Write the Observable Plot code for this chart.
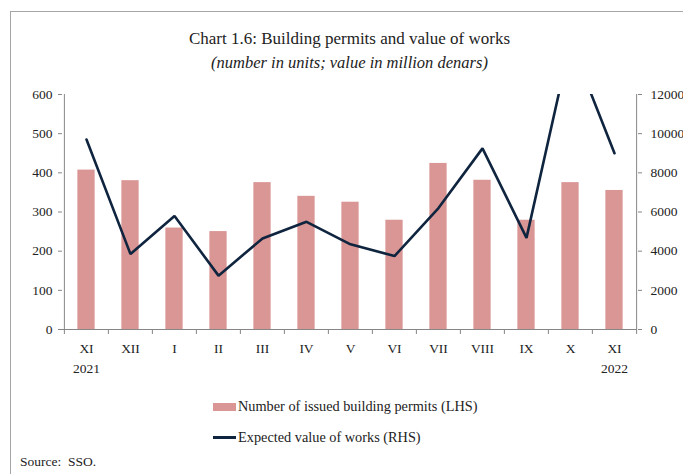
<!DOCTYPE html>
<html>
<head>
<meta charset="utf-8">
<script src="https://cdn.jsdelivr.net/npm/d3@7"></script>
<script src="https://cdn.jsdelivr.net/npm/@observablehq/plot@0.6"></script>
<style>
  body { margin: 0; background: #fff; font-family: "Liberation Serif", serif; color: #222; }
  #wrap { position: relative; width: 683px; height: 474px; overflow: hidden; }
  .abs { position: absolute; }
  #frame { left: 10px; top: 11px; width: 720px; height: 520px; border-left: 1px solid #a6a6a6; border-top: 1px solid #a6a6a6; }
  #title { left: 62px; width: 575px; top: 29px; text-align: center; font-size: 17px; line-height: 20px; }
  #subtitle { left: 62px; width: 575px; top: 53px; text-align: center; font-size: 16.5px; font-style: italic; line-height: 20px; }
  #chart { left: 0; top: 80px; }
  .leg { font-size: 14.3px; line-height: 16px; white-space: nowrap; }
</style>
</head>
<body>
<div id="wrap">
  <div id="frame" class="abs"></div>
  <div id="title" class="abs">Chart 1.6: Building permits and value of works</div>
  <div id="subtitle" class="abs">(number in units; value in million denars)</div>
  <div id="chart" class="abs"></div>
  <div class="abs" style="left:213px;top:403px;width:23px;height:8px;background:#d99694"></div>
  <div class="abs leg" style="left:238px;top:398px">Number of issued building permits (LHS)</div>
  <div class="abs" style="left:213px;top:436px;width:23px;height:2.5px;background:#0f243e"></div>
  <div class="abs leg" style="left:238px;top:429px">Expected value of works (RHS)</div>
  <div class="abs leg" style="left:20px;top:454px;font-size:13.5px">Source:&nbsp; SSO.</div>
</div>
<script>
const categories = ["XI 2021","XII","I","II","III","IV","V","VI","VII","VIII","IX","X","XI 2022"];
const monthLabels = ["XI\n2021","XII","I","II","III","IV","V","VI","VII","VIII","IX","X","XI\n2022"];
const permits = [407,380,259,250,375,340,325,279,424,381,279,375,355];
const works = [9700,3850,5800,2750,4650,5500,4350,3750,6200,9250,4680,14700,9000];
const lhsTicks = [0,100,200,300,400,500,600];
const rhsTicks = [0,2000,4000,6000,8000,10000,12000];

const ratio = rhsTicks[rhsTicks.length-1] / lhsTicks[lhsTicks.length-1];
const data = categories.map((c, i) => ({cat: c, permits: permits[i], works: works[i]}));

const W = 683, ML = 62, MR = 46;
const bw = (W - ML - MR) / categories.length;
const barW = 17.5;
const inset = (bw - barW) / 2;
const grey = "#868686";

const chart = Plot.plot({
  width: W,
  height: 300,
  marginTop: 14,
  marginBottom: 51,
  marginLeft: ML,
  marginRight: MR,
  style: {fontFamily: "Liberation Serif, serif", fontSize: "13.5px", color: "#222", background: "transparent"},
  x: {domain: categories, padding: 0, axis: null},
  y: {domain: [0, 600], axis: null},
  marks: [
    Plot.barY(data, {x: "cat", y: "permits", fill: "#d99694", insetLeft: inset, insetRight: inset}),
    Plot.line(data, {x: "cat", y: d => d.works / ratio, stroke: "#0f243e", strokeWidth: 2.6, strokeLinejoin: "miter", clip: true}),
    Plot.ruleY([0], {stroke: grey}),
    Plot.ruleX([categories[0]], {dx: -bw/2, stroke: grey}),
    Plot.ruleX([categories[categories.length-1]], {dx: bw/2, stroke: grey}),
    Plot.axisY(lhsTicks, {anchor: "left", label: null, tickSize: 4, tickPadding: 6, stroke: grey, fill: "#222"}),
    Plot.axisY(rhsTicks.map(v => v / ratio), {anchor: "right", label: null, tickSize: 4, tickPadding: 9, stroke: grey, fill: "#222", tickFormat: d => String(Math.round(d * ratio))}),
    Plot.axisX({anchor: "bottom", label: null, tickSize: 5, tickFormat: () => "", dx: -bw/2, stroke: grey}),
    Plot.axisX([categories[categories.length-1]], {anchor: "bottom", label: null, tickSize: 5, tickFormat: () => "", dx: bw/2, stroke: grey}),
    Plot.axisX({anchor: "bottom", label: null, tickSize: 0, tickPadding: 9, lineHeight: 1.5, fill: "#222", tickFormat: d => monthLabels[categories.indexOf(d)]})
  ]
});
document.getElementById("chart").appendChild(chart);
</script>
</body>
</html>
